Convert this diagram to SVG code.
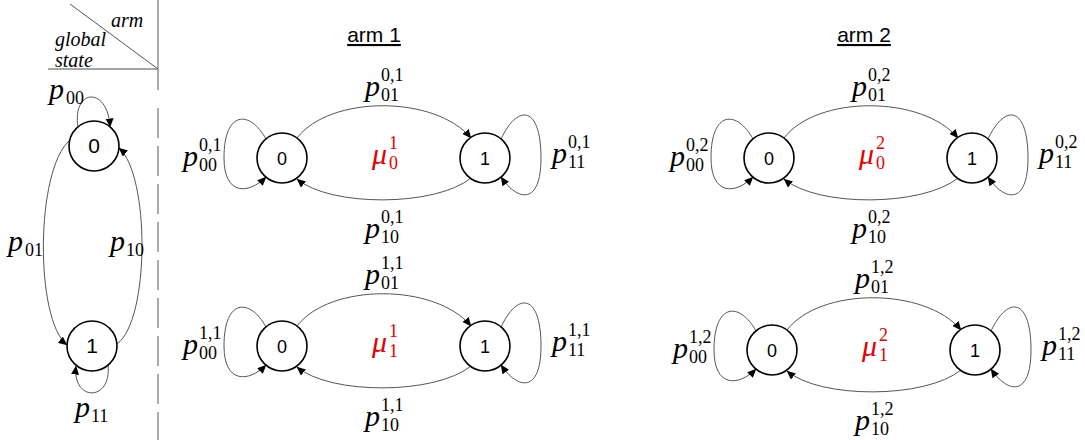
<svg xmlns="http://www.w3.org/2000/svg" width="1085" height="440" viewBox="0 0 1085 440">
<style>
.bg{fill:#fff}
.st{fill:#fff;stroke:#000;stroke-width:1.6}
.edge{fill:none;stroke:#555;stroke-width:1}
.m{font-family:"Liberation Serif",serif;font-style:italic;font-size:30px;fill:#000}
.d{font-family:"Liberation Serif",serif;font-size:18px;fill:#000}
.red{fill:#e60000}
.n{font-family:"Liberation Sans",sans-serif;font-size:18px;text-anchor:middle;fill:#000}
.nl{font-family:"Liberation Sans",sans-serif;font-size:21px;text-anchor:middle;fill:#000}
.it{font-family:"Liberation Serif",serif;font-style:italic;font-size:20px;fill:#000}
.title{font-family:"Liberation Sans",sans-serif;font-size:21px;text-anchor:middle;text-decoration:underline;fill:#000}
.grid{stroke:#888;stroke-width:1.4;fill:none}
</style>
<defs>
<marker id="ah" markerUnits="userSpaceOnUse" markerWidth="9" markerHeight="8" viewBox="0 0 9 8" refX="8.5" refY="4" orient="auto">
<path d="M0,0 L9,4 L0,8 z" fill="#000"/>
</marker>
</defs>
<rect class="bg" x="0" y="0" width="1085" height="440"/>

<!-- header grid -->
<g id="header">
<line class="grid" x1="158" y1="0" x2="158" y2="90"/>
<line class="grid" x1="158" y1="108" x2="158" y2="440" stroke-dasharray="30 8"/>
<line class="grid" x1="48" y1="69" x2="158" y2="69"/>
<line x1="70" y1="4" x2="158" y2="69" stroke="#555" stroke-width="1"/>
<text class="it" x="111" y="27">arm</text>
<text class="it" x="55" y="46">global</text>
<text class="it" x="55" y="67">state</text>
<text class="title" x="374" y="42">arm 1</text>
<text class="title" x="864" y="42">arm 2</text>
</g>

<!-- left global state chain -->
<g id="global-connectors">
<path class="edge" d="M78,127 C72,88 108,86 110,127" marker-end="url(#ah)"/>
<path class="edge" d="M70,140 C35,170 35,320 67,345" marker-end="url(#ah)"/>
<path class="edge" d="M117,344 C150,320 150,175 119,148" marker-end="url(#ah)"/>
<path class="edge" d="M108,365 C112,402 72,402 76,366" marker-end="url(#ah)"/>
<text class="m" x="49" y="99">p</text><text class="d" x="66" y="104">00</text>
<text class="m" x="8" y="251">p</text><text class="d" x="25" y="256">01</text>
<text class="m" x="110" y="251">p</text><text class="d" x="126" y="256">10</text>
<text class="m" x="75" y="417">p</text><text class="d" x="91" y="422">11</text>
</g>
<g id="global-0"><circle class="st" cx="94" cy="146" r="25"/><text class="nl" x="94" y="153">0</text></g>
<g id="global-1"><circle class="st" cx="92" cy="346" r="25"/><text class="nl" x="92" y="353">1</text></g>

<!-- arm 1, global state 0 -->
<g id="arm1-g0" transform="translate(0,0)">
<g id="arm1-g0-edges">
<path class="edge" d="M297,138 C330,95 435,95 471,138" marker-end="url(#ah)"/>
<path class="edge" d="M471,178 C435,207 330,207 297,179" marker-end="url(#ah)"/>
<path class="edge" d="M266,139 C250,110 224,110 224,158 C224,195 248,195 266,177" marker-end="url(#ah)"/>
<path class="edge" d="M501,139 C518,103 541,106 541,158 C541,205 518,202 501,177" marker-end="url(#ah)"/>
<text class="m" x="365" y="96">p</text><text class="d" x="381" y="101">01</text><text class="d" x="381" y="81">0,1</text>
<text class="m" x="183" y="166">p</text><text class="d" x="199" y="171">00</text><text class="d" x="199" y="151">0,1</text>
<text class="m" x="365" y="238">p</text><text class="d" x="381" y="243">10</text><text class="d" x="381" y="223">0,1</text>
<text class="m" x="552" y="163">p</text><text class="d" x="568" y="168">11</text><text class="d" x="568" y="148">0,1</text>
<text class="m red" x="372" y="164">μ</text><text class="d red" x="389" y="169">0</text><text class="d red" x="389" y="149">1</text>
</g>
<g id="arm1-g0-s0"><circle class="st" cx="282" cy="158" r="25"/><text class="n" x="282" y="165">0</text></g>
<g id="arm1-g0-s1"><circle class="st" cx="485" cy="158" r="25"/><text class="n" x="485" y="165">1</text></g>
</g>

<!-- arm 1, global state 1 -->
<g id="arm1-g1" transform="translate(0,188)">
<g id="arm1-g1-edges">
<path class="edge" d="M297,138 C330,95 435,95 471,138" marker-end="url(#ah)"/>
<path class="edge" d="M471,178 C435,207 330,207 297,179" marker-end="url(#ah)"/>
<path class="edge" d="M266,139 C250,110 224,110 224,158 C224,195 248,195 266,177" marker-end="url(#ah)"/>
<path class="edge" d="M501,139 C518,103 541,106 541,158 C541,205 518,202 501,177" marker-end="url(#ah)"/>
<text class="m" x="365" y="96">p</text><text class="d" x="381" y="101">01</text><text class="d" x="381" y="81">1,1</text>
<text class="m" x="183" y="166">p</text><text class="d" x="199" y="171">00</text><text class="d" x="199" y="151">1,1</text>
<text class="m" x="365" y="238">p</text><text class="d" x="381" y="243">10</text><text class="d" x="381" y="223">1,1</text>
<text class="m" x="552" y="163">p</text><text class="d" x="568" y="168">11</text><text class="d" x="568" y="148">1,1</text>
<text class="m red" x="372" y="164">μ</text><text class="d red" x="389" y="169">1</text><text class="d red" x="389" y="149">1</text>
</g>
<g id="arm1-g1-s0"><circle class="st" cx="282" cy="158" r="25"/><text class="n" x="282" y="165">0</text></g>
<g id="arm1-g1-s1"><circle class="st" cx="485" cy="158" r="25"/><text class="n" x="485" y="165">1</text></g>
</g>

<!-- arm 2, global state 0 -->
<g id="arm2-g0" transform="translate(487,0)">
<g id="arm2-g0-edges">
<path class="edge" d="M297,138 C330,95 435,95 471,138" marker-end="url(#ah)"/>
<path class="edge" d="M471,178 C435,207 330,207 297,179" marker-end="url(#ah)"/>
<path class="edge" d="M266,139 C250,110 224,110 224,158 C224,195 248,195 266,177" marker-end="url(#ah)"/>
<path class="edge" d="M501,139 C518,103 541,106 541,158 C541,205 518,202 501,177" marker-end="url(#ah)"/>
<text class="m" x="365" y="96">p</text><text class="d" x="381" y="101">01</text><text class="d" x="381" y="81">0,2</text>
<text class="m" x="183" y="166">p</text><text class="d" x="199" y="171">00</text><text class="d" x="199" y="151">0,2</text>
<text class="m" x="365" y="238">p</text><text class="d" x="381" y="243">10</text><text class="d" x="381" y="223">0,2</text>
<text class="m" x="552" y="163">p</text><text class="d" x="568" y="168">11</text><text class="d" x="568" y="148">0,2</text>
<text class="m red" x="372" y="164">μ</text><text class="d red" x="389" y="169">0</text><text class="d red" x="389" y="149">2</text>
</g>
<g id="arm2-g0-s0"><circle class="st" cx="282" cy="158" r="25"/><text class="n" x="282" y="165">0</text></g>
<g id="arm2-g0-s1"><circle class="st" cx="485" cy="158" r="25"/><text class="n" x="485" y="165">1</text></g>
</g>

<!-- arm 2, global state 1 -->
<g id="arm2-g1" transform="translate(490,192)">
<g id="arm2-g1-edges">
<path class="edge" d="M297,138 C330,95 435,95 471,138" marker-end="url(#ah)"/>
<path class="edge" d="M471,178 C435,207 330,207 297,179" marker-end="url(#ah)"/>
<path class="edge" d="M266,139 C250,110 224,110 224,158 C224,195 248,195 266,177" marker-end="url(#ah)"/>
<path class="edge" d="M501,139 C518,103 541,106 541,158 C541,205 518,202 501,177" marker-end="url(#ah)"/>
<text class="m" x="365" y="96">p</text><text class="d" x="381" y="101">01</text><text class="d" x="381" y="81">1,2</text>
<text class="m" x="183" y="166">p</text><text class="d" x="199" y="171">00</text><text class="d" x="199" y="151">1,2</text>
<text class="m" x="365" y="238">p</text><text class="d" x="381" y="243">10</text><text class="d" x="381" y="223">1,2</text>
<text class="m" x="552" y="163">p</text><text class="d" x="568" y="168">11</text><text class="d" x="568" y="148">1,2</text>
<text class="m red" x="372" y="164">μ</text><text class="d red" x="389" y="169">1</text><text class="d red" x="389" y="149">2</text>
</g>
<g id="arm2-g1-s0"><circle class="st" cx="282" cy="158" r="25"/><text class="n" x="282" y="165">0</text></g>
<g id="arm2-g1-s1"><circle class="st" cx="485" cy="158" r="25"/><text class="n" x="485" y="165">1</text></g>
</g>
</svg>
